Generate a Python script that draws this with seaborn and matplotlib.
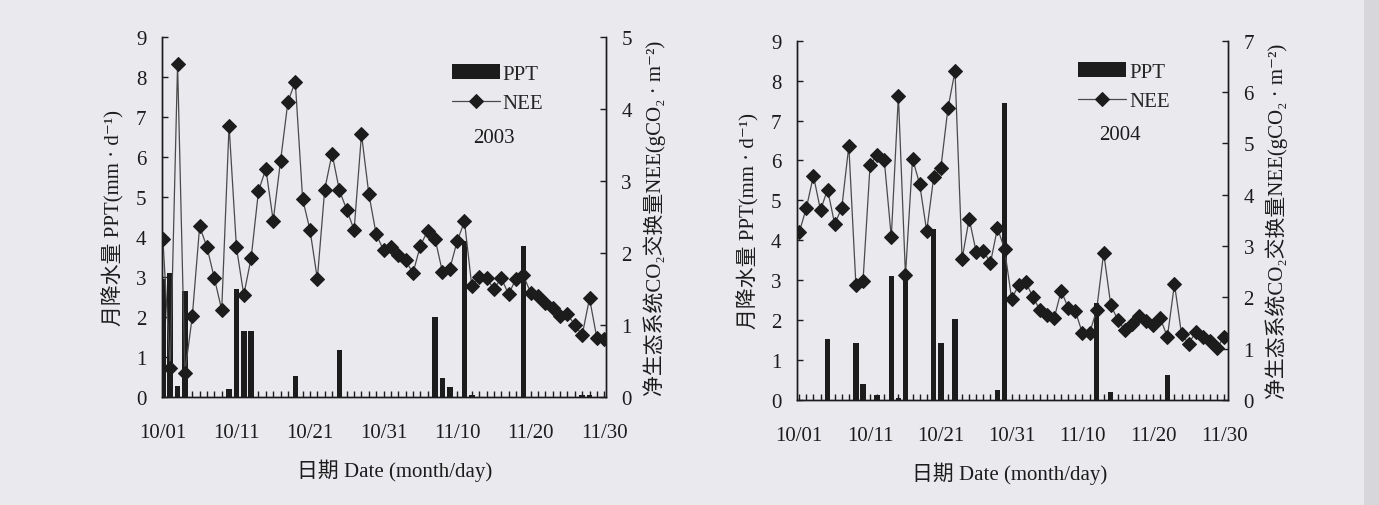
import numpy as np
import pandas as pd
import matplotlib
matplotlib.use("Agg")
import matplotlib.pyplot as plt
import seaborn as sns
from matplotlib.patches import Rectangle

# ---------------- data ----------------
days = list(range(61))  # 10/01 .. 11/30
tick_days = [0, 10, 20, 30, 40, 50, 60]
tick_labels = ["10/01", "10/11", "10/21", "10/31", "11/10", "11/20", "11/30"]

nee_2003 = [2.20, 0.40, 4.63, 0.34, 1.12, 2.37, 2.08, 1.65, 1.21, 3.77,
            2.08, 1.42, 1.93, 2.86, 3.17, 2.45, 3.28, 4.10, 4.38, 2.75,
            2.32, 1.64, 2.88, 3.38, 2.87, 2.60, 2.32, 3.65, 2.82, 2.26,
            2.04, 2.08, 1.97, 1.90, 1.72, 2.10, 2.31, 2.20, 1.74, 1.78,
            2.16, 2.44, 1.54, 1.66, 1.65, 1.50, 1.65, 1.43, 1.64, 1.69,
            1.45, 1.40, 1.31, 1.23, 1.13, 1.15, 1.00, 0.86, 1.37, 0.82,
            0.80]
ppt_2003_days = [0, 1, 2, 3, 9, 10, 11, 12, 18, 24, 37, 38, 39, 41, 42, 49, 57, 58]
ppt_2003_vals = [2.95, 3.10, 0.28, 2.65, 0.20, 2.70, 1.65, 1.65, 0.52, 1.17,
                 2.00, 0.48, 0.25, 3.90, 0.06, 3.78, 0.06, 0.06]

nee_2004 = [3.27, 3.74, 4.37, 3.70, 4.10, 3.43, 3.74, 4.95, 2.24, 2.31,
            4.57, 4.78, 4.68, 3.17, 5.93, 2.43, 4.70, 4.21, 3.29, 4.35,
            4.52, 5.68, 6.41, 2.75, 3.53, 2.88, 2.91, 2.67, 3.35, 2.94,
            1.97, 2.24, 2.29, 2.01, 1.75, 1.66, 1.59, 2.13, 1.79, 1.73,
            1.30, 1.30, 1.75, 2.87, 1.85, 1.56, 1.36, 1.49, 1.64, 1.53,
            1.46, 1.59, 1.23, 2.26, 1.28, 1.10, 1.32, 1.23, 1.14, 1.01,
            1.23]
ppt_2004_days = [4, 8, 9, 11, 13, 14, 15, 19, 20, 22, 28, 29, 42, 44, 52]
ppt_2004_vals = [1.53, 1.42, 0.40, 0.12, 3.11, 0.06, 3.11, 4.28, 1.42, 2.03,
                 0.26, 7.43, 2.42, 0.20, 0.63]

ylabel_left = "月降水量 PPT(mm · d⁻¹)"
ylabel_right = "净生态系统CO₂交换量NEE(gCO₂ · m⁻²)"
xlabel = "日期 Date (month/day)"

# ---------------- style ----------------
sns.set_style("ticks")
plt.rcParams['font.family'] = ['Liberation Serif', 'Noto Sans CJK SC', 'DejaVu Sans']
BG = '#e9e9ee'
INK = '#1c1c1c'
FS = 15

fig = plt.figure(figsize=(13.79, 5.06), dpi=100, facecolor=BG)
fig.patches.append(Rectangle((0.989, 0), 0.011, 1, transform=fig.transFigure,
                             facecolor='#d6d6db', edgecolor='none', zorder=0))


def full_series(idx, vals):
    arr = np.zeros(len(days))
    for d, v in zip(idx, vals):
        arr[d] = v
    return arr


def panel(rect, ppt_idx, ppt_vals, nee, xlim, y2max, year, leg_anchor, year_pos,
          xlabel_x):
    ax = fig.add_axes(rect)
    ax.set_facecolor('none')
    df = pd.DataFrame({'day': days, 'ppt': full_series(ppt_idx, ppt_vals),
                       'nee': nee})
    sns.barplot(data=df, x='day', y='ppt', native_scale=True, color=INK,
                width=0.75, errorbar=None, linewidth=0, saturation=1,
                ax=ax, label='PPT')
    ax2 = ax.twinx()
    sns.lineplot(data=df, x='day', y='nee', ax=ax2, color='#4a4a4a', lw=0.9,
                 marker='D', markersize=7.5, markerfacecolor=INK,
                 markeredgecolor=INK, label='NEE')
    for a in (ax, ax2):
        lg = a.get_legend()
        if lg is not None:
            lg.remove()
    ax.set_xlim(*xlim)
    ax.set_ylim(0, 9)
    ax2.set_ylim(0, y2max)
    ax.set_yticks(range(10))
    ax2.set_yticks(range(y2max + 1))
    ax.set_xticks(tick_days)
    ax.set_xticklabels(tick_labels)
    ax.set_xticks(days, minor=True)
    for a in (ax, ax2):
        a.spines['top'].set_visible(False)
        for s in ('left', 'right', 'bottom'):
            a.spines[s].set_color(INK)
            a.spines[s].set_linewidth(1.0)
    ax.tick_params(axis='y', direction='in', length=4, width=1, color=INK,
                   labelsize=FS, labelcolor=INK, pad=11)
    ax2.tick_params(axis='y', direction='in', length=4, width=1, color=INK,
                    labelsize=FS, labelcolor=INK, pad=11)
    ax.tick_params(axis='x', which='both', direction='in', length=4, width=1,
                   color=INK, labelsize=FS, labelcolor=INK, pad=19)
    ax.set_ylabel(ylabel_left, fontsize=FS, color=INK, labelpad=8)
    ax2.set_ylabel(ylabel_right, fontsize=FS, color=INK, labelpad=8)
    ax.set_xlabel(xlabel, fontsize=FS, color=INK)
    ax.xaxis.set_label_coords(xlabel_x, -0.17)
    bar_handle = Rectangle((0, 0), 1, 1, facecolor=INK, edgecolor='none')
    line_handle = ax2.get_lines()[0]
    ax2.legend([bar_handle, line_handle], ['PPT', 'NEE'], loc='upper left',
               bbox_to_anchor=leg_anchor, frameon=False, fontsize=FS,
               handlelength=2.3, handletextpad=0.15, labelspacing=0.45,
               borderpad=0, borderaxespad=0)
    ax2.text(year_pos[0], year_pos[1], year, transform=ax2.transAxes,
             ha='center', va='center', fontsize=FS, color=INK)
    return ax, ax2


panel([0.1173, 0.2134, 0.3222, 0.7115], ppt_2003_days, ppt_2003_vals, nee_2003,
      (-0.15, 60.25), 5, '2003', (0.6527, 0.924), (0.748, 0.72), 0.523)
panel([0.5777, 0.2075, 0.3130, 0.7101], ppt_2004_days, ppt_2004_vals, nee_2004,
      (-0.37, 60.6), 7, '2004', (0.652, 0.94), (0.749, 0.74), 0.494)

fig.savefig('out.png', dpi=100, facecolor=BG)
